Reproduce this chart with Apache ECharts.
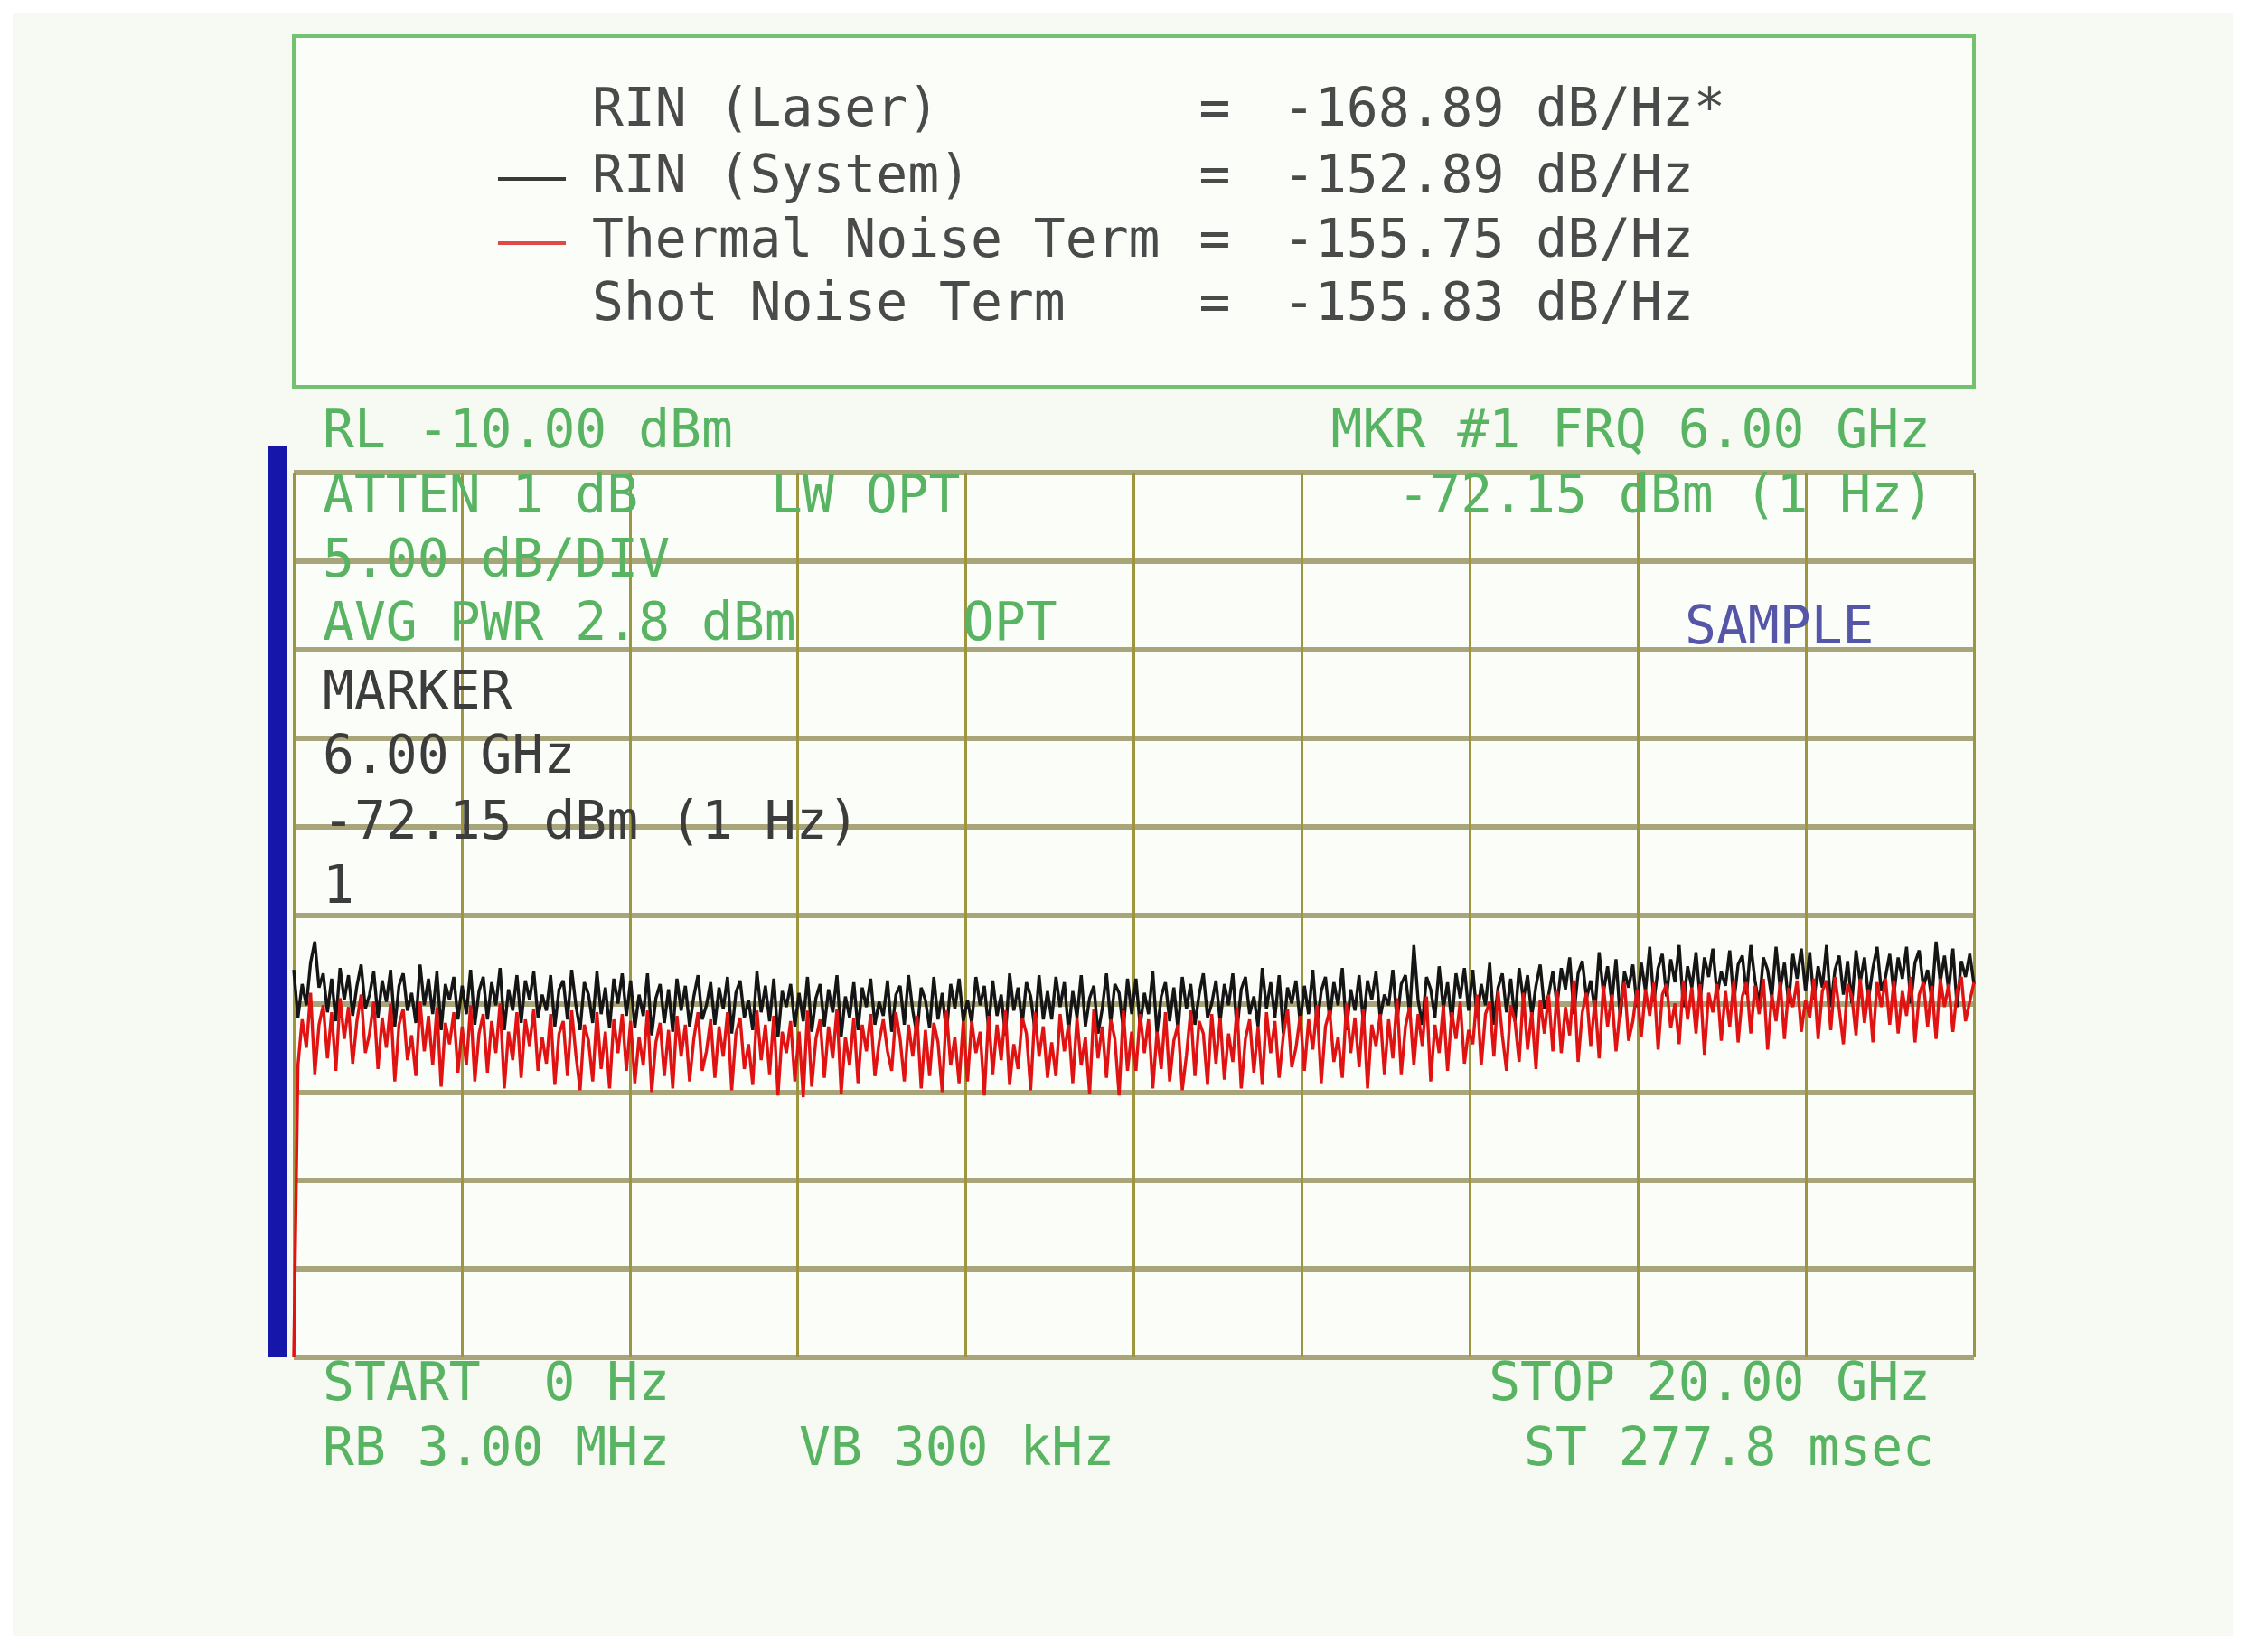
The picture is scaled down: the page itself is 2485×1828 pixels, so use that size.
<!DOCTYPE html>
<html>
<head>
<meta charset="utf-8">
<script src="https://cdn.jsdelivr.net/npm/echarts@6/dist/echarts.min.js"></script>
<style>
html,body{margin:0;padding:0;background:#ffffff;}
#chart{width:2485px;height:1828px;}
</style>
</head>
<body>
<div id="chart"></div>
<script>
// ---- Instrument settings ----
const sweepStartGHz = 0;
const sweepStopGHz = 20;
const freqDivGHz = 2;
const refLevelDbm = -10;
const dbPerDiv = 5;
const ampDivisions = 10;

// ---- Legend block ----
const legendLabels = ["RIN (Laser)", "RIN (System)", "Thermal Noise Term", "Shot Noise Term"];
const legendValues = ["-168.89 dB/Hz*", "-152.89 dB/Hz", "-155.75 dB/Hz", "-155.83 dB/Hz"];

// ---- Traces (dBm), evenly spaced sweep points from START to STOP (20 per GHz) ----
const rinSystemDbm = [
-38.1,-40.8,-38.9,-40.1,-37.7,-36.5,-39.1,-38.3,-40.5,-38.6,-41.0,-38.0,-39.8,-38.4,-40.7,-39.0,-37.8,-40.3,-39.5,-38.2,
-40.8,-38.7,-39.9,-38.1,-41.3,-39.0,-38.3,-40.4,-39.4,-41.1,-37.8,-40.1,-38.6,-40.6,-38.2,-41.5,-38.9,-39.8,-38.5,-40.9,
-39.0,-40.6,-38.1,-41.2,-39.3,-38.5,-40.9,-38.8,-40.1,-38.0,-41.5,-39.2,-40.4,-38.4,-41.1,-38.7,-39.8,-38.2,-40.8,-39.5,
-40.4,-38.4,-41.3,-39.2,-38.7,-40.9,-38.1,-40.1,-41.5,-38.8,-39.5,-41.1,-38.2,-40.6,-39.1,-41.4,-38.6,-40.0,-38.3,-40.7,
-38.7,-41.4,-39.5,-40.7,-38.3,-41.8,-39.7,-38.9,-41.1,-39.2,-41.6,-38.6,-40.4,-39.0,-41.3,-39.6,-38.4,-40.9,-40.1,-38.8,
-41.2,-39.1,-40.3,-38.5,-41.7,-39.4,-38.7,-40.8,-39.8,-41.5,-38.2,-40.5,-39.0,-41.0,-38.6,-41.9,-39.3,-40.2,-38.9,-41.3,
-39.4,-41.0,-38.5,-41.6,-39.7,-38.9,-41.3,-39.2,-40.5,-38.4,-41.9,-39.6,-40.8,-38.8,-41.5,-39.1,-40.2,-38.6,-41.2,-39.9,
-40.7,-38.7,-41.6,-39.5,-39.0,-41.2,-38.4,-40.4,-41.8,-39.1,-39.8,-41.4,-38.5,-40.9,-39.4,-41.7,-38.9,-40.3,-38.6,-41.0,
-39.8,-41.1,-38.5,-40.1,-39.0,-41.4,-38.7,-40.7,-39.5,-41.8,-38.3,-40.4,-39.1,-41.2,-38.8,-39.6,-41.5,-38.4,-40.9,-39.3,
-40.9,-38.5,-40.2,-38.8,-41.6,-39.3,-40.8,-38.4,-41.3,-39.7,-39.0,-41.7,-40.3,-38.3,-41.1,-38.9,-39.4,-41.5,-38.6,-40.6,
-38.6,-41.3,-39.4,-40.6,-38.2,-41.7,-39.6,-38.8,-41.0,-39.1,-41.5,-38.5,-40.3,-38.9,-41.2,-39.5,-38.3,-40.8,-40.0,-38.7,
-41.0,-38.9,-40.1,-38.3,-41.5,-39.2,-38.5,-40.6,-39.6,-41.3,-38.0,-40.3,-38.8,-40.8,-38.4,-41.7,-39.1,-40.0,-38.7,-41.1,
-39.0,-40.6,-38.1,-41.2,-39.3,-38.5,-40.9,-38.8,-40.1,-38.0,-41.5,-39.2,-40.4,-38.4,-41.1,-38.7,-39.8,-38.2,-40.8,-39.5,
-40.1,-38.1,-41.0,-38.9,-38.4,-40.6,-36.7,-39.8,-41.2,-38.5,-39.2,-40.8,-37.9,-40.3,-38.8,-41.1,-38.3,-39.7,-38.0,-40.4,
-38.1,-40.8,-38.9,-40.1,-37.7,-41.2,-39.1,-38.3,-40.5,-38.6,-41.0,-38.0,-39.8,-38.4,-40.7,-39.0,-37.8,-40.3,-39.5,-38.2,
-40.1,-38.0,-39.2,-37.4,-40.6,-38.3,-37.6,-39.7,-38.7,-40.4,-37.1,-39.4,-37.9,-39.9,-37.5,-40.8,-38.2,-39.1,-37.8,-40.2,
-37.7,-39.3,-36.8,-39.9,-38.0,-37.2,-39.6,-37.5,-38.8,-36.7,-40.2,-37.9,-39.1,-37.1,-39.8,-37.4,-38.5,-36.9,-39.5,-38.2,
-39.0,-37.0,-39.9,-37.8,-37.3,-39.5,-36.7,-38.7,-40.1,-37.4,-38.1,-39.7,-36.8,-39.2,-37.7,-40.0,-37.2,-38.6,-36.9,-39.3,
-37.1,-39.8,-37.9,-39.1,-36.7,-40.2,-38.1,-37.3,-39.5,-37.6,-40.0,-37.0,-38.8,-37.4,-39.7,-38.0,-36.8,-39.3,-38.5,-37.2,
-39.5,-37.4,-38.6,-36.8,-40.0,-37.7,-37.0,-39.1,-38.1,-39.8,-36.5,-38.8,-37.3,-39.3,-36.9,-40.2,-37.6,-38.5,-37.2,-38.9
];
const thermalNoiseDbm = [
-60.0,-43.5,-40.9,-42.5,-39.4,-44.0,-41.2,-40.1,-43.1,-40.5,-43.8,-39.7,-42.0,-40.2,-43.4,-41.0,-39.5,-42.8,-41.7,-39.9,
-43.7,-40.8,-42.5,-40.0,-44.4,-41.2,-40.3,-43.2,-41.8,-44.1,-39.9,-42.7,-40.7,-43.5,-40.2,-44.7,-41.1,-42.3,-40.5,-43.9,
-41.3,-43.5,-40.1,-44.4,-41.7,-40.6,-43.9,-41.0,-42.8,-40.0,-44.8,-41.6,-43.2,-40.5,-44.2,-40.9,-42.4,-40.3,-43.8,-41.9,
-43.4,-40.6,-44.6,-41.7,-41.0,-44.1,-40.4,-42.9,-44.9,-41.2,-42.1,-44.4,-40.5,-43.7,-41.6,-44.8,-40.9,-42.8,-40.6,-43.8,
-41.0,-44.5,-41.9,-43.5,-40.4,-45.0,-42.2,-41.1,-44.1,-41.5,-44.8,-40.7,-43.0,-41.2,-44.4,-42.0,-40.5,-43.8,-42.7,-40.9,
-44.2,-41.3,-43.0,-40.5,-44.9,-41.7,-40.8,-43.7,-42.3,-44.6,-40.4,-43.2,-41.2,-44.0,-40.7,-45.2,-41.6,-42.8,-41.0,-44.4,
-41.6,-45.3,-40.4,-44.7,-42.0,-40.9,-44.2,-41.3,-43.1,-40.3,-45.1,-41.9,-43.5,-40.8,-44.5,-41.2,-42.7,-40.6,-44.1,-42.2,
-40.9,-42.7,-43.8,-40.5,-42.0,-44.4,-41.2,-43.0,-40.7,-44.8,-41.5,-44.1,-41.1,-42.2,-45.0,-40.4,-43.5,-41.9,-44.5,-41.0,
-44.4,-41.0,-42.8,-41.6,-45.2,-40.7,-44.0,-41.2,-43.2,-40.4,-44.6,-42.3,-43.7,-40.8,-41.7,-44.9,-40.5,-43.0,-41.3,-44.2,
-42.2,-44.1,-40.6,-42.7,-41.2,-44.5,-40.8,-43.5,-41.9,-45.1,-40.3,-43.1,-41.3,-44.2,-40.9,-42.0,-45.2,-40.4,-43.8,-41.6,
-43.8,-40.6,-42.8,-40.9,-44.8,-41.6,-43.7,-40.5,-44.4,-42.1,-41.2,-44.9,-42.9,-40.4,-44.1,-41.0,-41.7,-44.6,-40.6,-43.4,
-40.8,-44.3,-41.7,-43.3,-40.2,-44.8,-42.0,-40.9,-43.9,-41.3,-44.6,-40.5,-42.8,-41.0,-44.2,-41.8,-40.3,-43.6,-42.5,-40.7,
-43.8,-40.9,-42.6,-40.1,-44.5,-41.3,-40.4,-43.3,-41.9,-44.2,-40.0,-42.8,-40.8,-43.6,-40.3,-44.8,-41.2,-42.4,-40.6,-44.0,
-40.9,-43.1,-39.7,-44.0,-41.3,-40.2,-43.5,-40.6,-42.4,-39.6,-44.4,-41.2,-42.8,-40.1,-43.8,-40.5,-42.0,-39.9,-43.4,-41.5,
-42.3,-39.5,-43.5,-40.6,-39.9,-43.0,-39.3,-41.8,-43.8,-40.1,-41.0,-43.3,-39.4,-42.6,-40.5,-43.7,-39.8,-41.7,-39.5,-42.7,
-39.3,-42.8,-40.2,-41.8,-38.7,-43.3,-40.5,-39.4,-42.4,-39.8,-43.1,-39.0,-41.3,-39.5,-42.7,-40.3,-38.8,-42.1,-41.0,-39.2,
-41.9,-39.2,-40.7,-38.8,-42.6,-39.5,-38.9,-41.4,-40.0,-42.3,-38.7,-40.9,-39.1,-41.7,-38.9,-42.9,-39.4,-40.5,-38.9,-42.1,
-39.3,-41.3,-38.7,-42.2,-39.6,-38.8,-41.7,-39.0,-40.6,-38.6,-42.6,-39.5,-41.0,-38.8,-42.0,-39.1,-40.2,-38.7,-41.6,-39.8,
-40.8,-38.6,-42.0,-39.3,-38.7,-41.5,-38.5,-40.3,-42.3,-38.9,-39.6,-41.8,-38.6,-41.1,-39.2,-42.2,-38.8,-40.2,-38.6,-41.2,
-38.7,-41.7,-39.3,-40.7,-38.5,-42.2,-39.5,-38.8,-41.3,-39.0,-42.0,-38.6,-40.2,-38.9,-41.6,-39.3,-38.5,-41.0,-39.9,-38.8
];

// ---- Build sweep-point pairs ----
function toPairs(vals){
  const n = vals.length;
  return vals.map((v,i)=>[sweepStartGHz + (sweepStopGHz - sweepStartGHz) * i / (n - 1), v]);
}

const FONT = "58px 'DejaVu Sans Mono', 'Liberation Mono', monospace";
const GREEN = '#58b462';
const DARK = '#3c3c3c';
function txt(s, x, y, color, align){
  return {type:'text', z:50, style:{text:s, x:x, y:y, font:FONT, fill:color,
    textAlign:align||'left', textVerticalAlign:'middle', verticalAlign:'middle'}};
}

const graphics = [
  {type:'rect', z:-10, shape:{x:14,y:14,width:2457,height:1796}, style:{fill:'#f6faf3'}},
  {type:'rect', z:-9, shape:{x:325,y:523,width:1859,height:979}, style:{fill:'#fbfdf9'}},
  // legend frame
  {type:'rect', z:5, shape:{x:325,y:40,width:1859,height:388}, style:{fill:'#fbfdf9', stroke:'#72c272', lineWidth:4}},
  {type:'line', z:6, shape:{x1:551,y1:198,x2:626,y2:198}, style:{stroke:'#3a3a3a', lineWidth:4}},
  {type:'line', z:6, shape:{x1:551,y1:269,x2:626,y2:269}, style:{stroke:'#e04848', lineWidth:4}},
  // blue indicator bar
  {type:'rect', z:5, shape:{x:296,y:494,width:21,height:1008}, style:{fill:'#1616aa'}},
  // instrument annotations
  txt('RL -10.00 dBm', 357, 480, GREEN),
  txt('MKR #1 FRQ 6.00 GHz', 2136, 480, GREEN, 'right'),
  txt('ATTEN 1 dB', 357, 552, GREEN),
  txt('LW OPT', 853, 552, GREEN),
  txt('-72.15 dBm (1 Hz)', 2140, 552, GREEN, 'right'),
  txt('5.00 dB/DIV', 357, 623, GREEN),
  txt('AVG PWR 2.8 dBm', 357, 693, GREEN),
  txt('OPT', 1065, 693, GREEN),
  txt('SAMPLE', 1864, 697, '#5656a8'),
  txt('MARKER', 357, 769, DARK),
  txt('6.00 GHz', 357, 840, DARK),
  txt('-72.15 dBm (1 Hz)', 357, 913, DARK),
  txt('1', 357, 984, DARK),
  txt('START  0 Hz', 357, 1534, GREEN),
  txt('STOP 20.00 GHz', 2136, 1534, GREEN, 'right'),
  txt('RB 3.00 MHz', 357, 1606, GREEN),
  txt('VB 300 kHz', 884, 1606, GREEN),
  txt('ST 277.8 msec', 2140, 1606, GREEN, 'right')
];
const legendY = [124, 198, 269, 339];
legendLabels.forEach((s,i)=>{
  graphics.push(txt(s, 655, legendY[i], '#4a4a4a'));
  graphics.push(txt('=', 1344, legendY[i], '#4a4a4a', 'center'));
  graphics.push(txt(legendValues[i], 1420, legendY[i], '#4a4a4a'));
});

const chart = echarts.init(document.getElementById('chart'), null, {renderer:'canvas'});
chart.setOption({
  animation:false,
  backgroundColor:'#ffffff',
  grid:{left:325, top:523, width:1859, height:979, containLabel:false},
  xAxis:{type:'value', min:sweepStartGHz, max:sweepStopGHz, interval:freqDivGHz,
    axisLabel:{show:false}, axisTick:{show:false}, axisLine:{show:false},
    splitLine:{show:true, lineStyle:{color:'#9d963f', width:3}}},
  yAxis:{type:'value', min:refLevelDbm - dbPerDiv*ampDivisions, max:refLevelDbm, interval:dbPerDiv,
    axisLabel:{show:false}, axisTick:{show:false}, axisLine:{show:false},
    splitLine:{show:true, lineStyle:{color:'#a9a57a', width:6}}},
  series:[
    {type:'line', name:'RIN (System)', data:toPairs(rinSystemDbm), showSymbol:false, symbol:'none',
     sampling:null, lineStyle:{color:'#151515', width:3.4}, z:3},
    {type:'line', name:'Thermal Noise Term', data:toPairs(thermalNoiseDbm), showSymbol:false, symbol:'none',
     sampling:null, lineStyle:{color:'#e01212', width:3.4}, z:4}
  ],
  graphic:graphics
});
</script>
</body>
</html>
